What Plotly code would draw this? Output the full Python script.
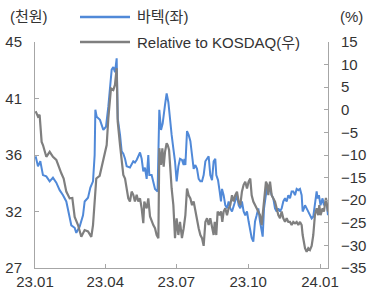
import pandas as pd
import plotly.graph_objects as go

START = pd.Timestamp("2023-01-01")

# 바텍 share price (thousand KRW), day offsets from 2023-01-01
blue_day = [0.8, 3.8, 6.8, 10.2, 14.5, 18.8, 23, 27.3, 31.6, 35.9, 40.1, 43.5, 46.5, 50.8, 52.9,
            57.2, 61.5, 63.6, 67.9, 70.9, 74.3, 76.4, 77.3, 79, 83.2, 87.5, 90.9, 93.9, 98.2, 100.3,
            102.5, 104.6, 106, 108.9, 111, 113.1, 115.3, 117.4, 121.6, 125.9, 128, 130.2, 132.3,
            134.5, 136.6, 138.7, 140.8, 143, 145.1, 146.4, 149.4, 151.5, 153.7, 157, 159.2, 161.4,
            163.5, 166.5, 168.6, 170.8, 172.9, 175, 177.2, 179.3, 181.4, 183.6, 185.7, 188.2, 190.4,
            191.3, 192.6, 194.7, 196.8, 199, 201.1, 203.2, 205.4, 207.5, 209.6, 211.8, 213.9, 216,
            218.2, 220.3, 222.4, 224.5, 226.7, 228.8, 230.9, 232.2, 234.4, 236.5, 238.2, 239.5,
            241.6, 243.7, 245.9, 248, 250.1, 252.3, 254.4, 256.5, 258.7, 260.8, 262.9, 265, 267.2,
            269.3, 271.5, 273.6, 275.7, 277.5, 279.6, 281.8, 283.9, 286, 288.2, 290.3, 291.6, 293.3,
            295.8, 297.5, 298.8, 301, 303.1, 305.2, 307.4, 309.5, 311.6, 313.8, 315.9, 318, 320.2,
            322.3, 324.4, 326.6, 328.7, 330.8, 333, 335.1, 337.2, 339.4, 341.5, 342.8, 344.5, 345.8,
            347.9, 350, 352.1, 354.3, 356.4, 358.5, 360.7, 361.9, 363.6, 365.7, 368.3, 370, 372.6,
            374.3, 375.2]
blue_val = [35.9, 35.1, 35.5, 34.4, 34.3, 33.9, 34.2, 33.8, 33.2, 32.8, 32.3, 31.2, 30.4, 30.2, 29.8,
            30.3, 31.2, 32.3, 32.6, 33.4, 33.9, 36.0, 39.6, 39.05, 38.8, 38.0, 38.25, 39.85, 42.8, 43.0,
            42.6, 43.7, 38.9, 37.6, 36.3, 36.1, 35.7, 35.1, 35.0, 35.5, 35.4, 35.6, 35.9,
            36.2, 35.7, 34.7, 35.0, 34.1, 36.0, 34.4, 34.4, 33.9, 33.3, 33.1, 39.6, 38.0,
            38.5, 40.0, 40.9, 40.2, 38.65, 37.6, 36.5, 35.5, 33.9, 35.1, 35.7, 35.6, 35.2,
            35.7, 35.2, 37.9, 37.6, 37.1, 36.0, 34.9, 35.2, 34.9, 34.1, 33.9, 33.9, 34.4,
            35.5, 35.7, 35.9, 34.4, 34.0, 35.5, 35.7, 34.4, 34.0, 33.1, 32.3, 33.3,
            32.8, 32.0, 31.75, 32.3, 31.75, 31.5, 32.0, 32.3, 32.8, 32.0, 31.75, 32.3, 31.5,
            31.2, 31.5, 30.7, 29.9, 29.4, 29.1, 30.7, 31.2, 31.75, 30.7, 29.9, 29.5, 31.75,
            33.1, 33.6, 33.1, 33.3, 32.8, 32.55, 31.75, 31.5, 31.75, 31.5, 31.75, 32.3, 32.55,
            32.3, 32.8, 32.55, 33.1, 33.1, 32.8, 33.3, 33.2, 33.3, 32.8, 31.5, 31.75, 32.0,
            31.75, 31.5, 31.2, 30.95, 31.1, 32.0, 33.1, 32.55, 32.8, 32.0, 32.55, 32.0, 32.3,
            31.75, 31.2]

# Relative to KOSDAQ (%), day offsets from 2023-01-01
gray_day = [0.8, 3.8, 5.9, 8.5, 10.2, 14.5, 18.8, 23, 27.3, 29.4, 33.7, 36.7, 40.1, 44.4, 47.8,
            50.8, 55.1, 59.3, 63.6, 67.9, 72.1, 74.3, 76.4, 78.5, 82.8, 87.1, 90.5, 91.8, 93.9,
            97.3, 100.3, 102.4, 104.6, 105.9, 108.9, 111, 113.1, 115.3, 117.4, 119.5, 121.6, 123.8,
            125.9, 128, 130.2, 132.3, 134.5, 136.6, 138.7, 140, 143, 145.1, 147.3, 149.4, 151.5,
            153.7, 155.8, 158, 159.2, 161.4, 163.1, 164.8, 166.5, 168.6, 170, 171.7, 172.9, 175,
            177.2, 179.3, 181.4, 183.6, 185.7, 188.2, 190.4, 192.6, 194.7, 196.8, 199, 201.1, 203.2,
            205.4, 207.5, 209.6, 211.8, 213.9, 216, 218.2, 220.3, 222.4, 224.5, 226.7, 228.8, 230.2,
            232.2, 233.9, 236.5, 238.2, 239.9, 241.6, 243.7, 245.9, 248, 250.1, 252.3, 254.4, 256.5,
            258.7, 260.8, 262.9, 265, 267.2, 269.3, 271.5, 273.6, 275.7, 277.5, 279.6, 281.8, 283.9,
            286, 288.2, 290.3, 292.4, 294.6, 295.8, 297.5, 298.8, 301, 303.1, 305.2, 307.4, 309.5,
            311.6, 313.8, 315.9, 318, 320.2, 322.3, 324.4, 326.6, 328.7, 330.8, 333, 335.1, 337.2,
            339.4, 341.5, 342.8, 344.5, 345.8, 347.9, 350, 352.1, 354.3, 356.4, 358.5, 360.7, 362.8,
            364.1, 365.7, 368.3, 370, 372.6, 374.3, 375.2]
gray_val = [-0.3, -1.5, -1.1, -7.1, -7.8, -10.4, -9.3, -10.4, -11.1, -12.2, -14.05, -15.2, -18.1, -19.6, -19.5,
            -23.7, -25.5, -28.1, -26.6, -26.9, -28.1, -25.5, -20.3, -15.2, -14.6, -11.5, -8.9, -7.8, -1.9,
            4.75, 4.4, 5.5, 9.2, -2.6, -7.8, -11.5, -14.4, -15.2, -17.4, -19.6, -20.3, -18.1,
            -18.8, -20.3, -18.8, -20.3, -19.6, -21.8, -25.1, -20.3, -21.8, -19.6, -23.6, -24.8, -25.5,
            -26.2, -27.7, -28.4, -8.5, -12.2, -8.5, -12.6, -9.3, -7.4, -7.8, -8.9, -12.9, -17.4,
            -21.1, -28.4, -24.0, -27.7, -24.8, -28.4, -26.2, -23.3, -17.4, -18.9, -19.6, -21.1, -20.3,
            -22.5, -24.8, -26.2, -27.7, -28.4, -30.1, -24.8, -24.0, -25.5, -24.0, -26.2, -27.7, -24.8,
            -27.7, -22.5, -23.3, -22.5, -24.8, -22.5, -21.8, -23.3, -21.8, -21.1, -18.9, -20.3, -18.9,
            -18.1, -20.3, -21.1, -18.1, -16.6, -15.9, -17.4, -15.9, -15.2, -18.9, -20.3, -21.1, -21.8,
            -22.5, -23.3, -25.5, -21.8, -17.4, -15.9, -16.6, -18.9, -15.9, -18.9, -19.6, -20.3, -21.8,
            -23.3, -24.0, -22.5, -24.0, -24.8, -24.0, -24.8, -24.8, -25.5, -24.8, -25.1, -24.8, -25.5,
            -24.8, -25.5, -27.7, -30.1, -30.6, -31.4, -30.6, -31.0, -30.1, -27.7, -23.3, -21.8, -23.3,
            -21.1, -23.3, -21.8, -22.5, -19.5, -21.8, -22.5]

x_tick_dates = ["2023-01-01", "2023-04-01", "2023-07-01", "2023-10-01", "2024-01-01"]
x_tick_text = ["23.01", "23.04", "23.07", "23.10", "24.01"]
left_tickvals = [27, 31.5, 36, 40.5, 45]
left_ticktext = ["27", "32", "36", "41", "45"]
right_tickvals = [-35, -30, -25, -20, -15, -10, -5, 0, 5, 10, 15]

BLUE = "#5089D8"
GRAY = "#7F7F7F"
AXIS = "#A6A6A6"
TEXT = "#333333"
FONT = "Liberation Sans, Arial, Noto Sans CJK KR, sans-serif"
FS = 15


def to_dates(days):
    return [START + pd.Timedelta(days=d) for d in days]


fig = go.Figure()
fig.add_trace(go.Scatter(x=to_dates(blue_day), y=blue_val, mode="lines", name="바텍(좌)",
                         line=dict(color=BLUE, width=2), yaxis="y", showlegend=False))
fig.add_trace(go.Scatter(x=to_dates(gray_day), y=gray_val, mode="lines", name="Relative to KOSDAQ(우)",
                         line=dict(color=GRAY, width=2.2), yaxis="y2", showlegend=False))

fig.update_layout(
    width=369, height=291,
    margin=dict(l=35, r=41, t=42, b=23),
    paper_bgcolor="white", plot_bgcolor="white",
    font=dict(family=FONT, size=FS, color=TEXT),
    xaxis=dict(range=[START, START + pd.Timedelta(days=375.25)],
               tickvals=pd.to_datetime(x_tick_dates), ticktext=x_tick_text,
               ticks="inside", ticklen=4, tickcolor=AXIS, showline=True, linecolor=AXIS,
               linewidth=1, showgrid=False, zeroline=False, ticklabelstandoff=0, automargin=False),
    yaxis=dict(range=[27, 45], tickvals=left_tickvals, ticktext=left_ticktext,
               ticks="inside", ticklen=4, tickcolor=AXIS, showline=True, linecolor=AXIS,
               linewidth=1, showgrid=False, zeroline=False, ticklabelstandoff=9, automargin=False),
    yaxis2=dict(range=[-35, 15], tickvals=right_tickvals, overlaying="y", side="right",
                ticks="inside", ticklen=4, tickcolor=AXIS, showline=True, linecolor=AXIS,
                linewidth=1, showgrid=False, zeroline=False, ticklabelstandoff=9, automargin=False),
)

# legend drawn manually
legend_items = [("바텍(좌)", BLUE, 17), ("Relative to KOSDAQ(우)", GRAY, 42)]
plot_left, plot_w, plot_bottom, plot_h = 35, 293, 268, 226
for label, color, py in legend_items:
    yp = (plot_bottom - py) / plot_h
    fig.add_shape(type="line", xref="paper", yref="paper",
                  x0=(80 - plot_left) / plot_w, x1=(130 - plot_left) / plot_w, y0=yp, y1=yp,
                  line=dict(color=color, width=2.5))
    fig.add_annotation(text=label, xref="paper", yref="paper", x=(135 - plot_left) / plot_w, y=yp,
                       xanchor="left", yanchor="middle", showarrow=False, font=dict(size=FS, color=TEXT))

fig.add_annotation(text="(천원)", xref="paper", yref="paper", x=(8 - plot_left) / plot_w,
                   y=(plot_bottom - 17) / plot_h, xanchor="left", yanchor="middle", showarrow=False)
fig.add_annotation(text="(%)", xref="paper", yref="paper", x=(338 - plot_left) / plot_w,
                   y=(plot_bottom - 17) / plot_h, xanchor="left", yanchor="middle", showarrow=False)

fig.write_html("out.html", config={"displayModeBar": False},
               post_script="document.body.style.margin='0';")
